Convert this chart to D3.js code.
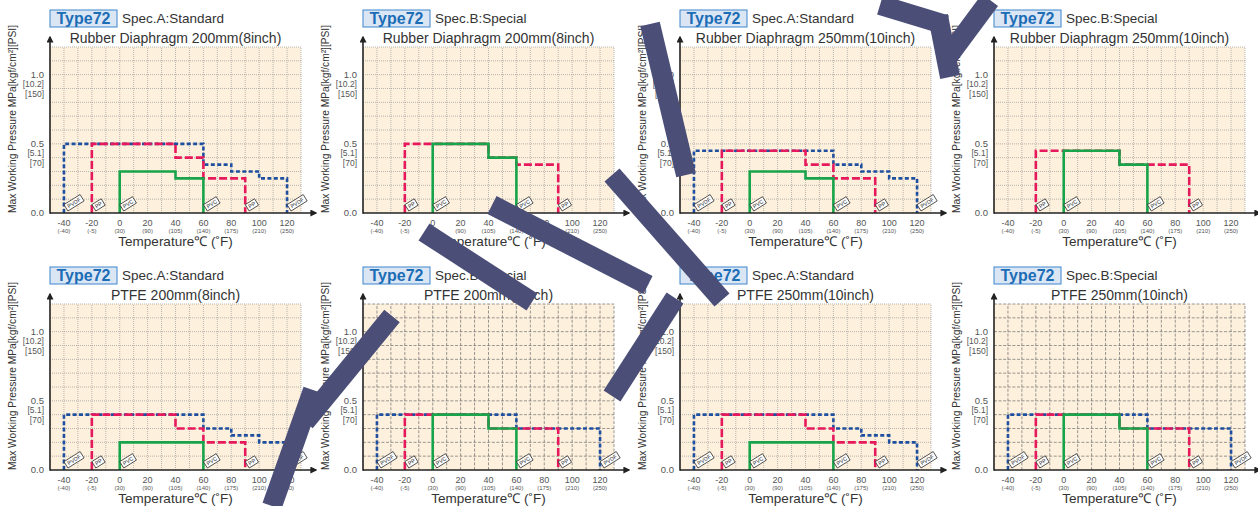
<!DOCTYPE html>
<html>
<head>
<meta charset="utf-8">
<script src="https://cdn.jsdelivr.net/npm/d3@7"></script>
<style>
  body { margin: 0; background: #fff; }
  svg { display: block; }
  text { font-family: "Liberation Sans", Arial, sans-serif; }
</style>
</head>
<body>
<svg id="chart" width="1258" height="506"></svg>
<script>
// axis ticks
const tempTicks = [-40, -20, 0, 20, 40, 60, 80, 100, 120]
const fahrLabels = ["(-40)", "(-5)", "(30)", "(90)", "(105)", "(140)", "(175)", "(210)", "(250)"]
const pressTicks = [0, 0.5, 1.0]
const pressLabels = ["0.0", "0.5", "1.0"]
const kgfLabels = ["", "[5.1]", "[10.2]"]
const psiLabels = ["", "[70]", "[150]"]

// step series: [temperature, pressure from that temperature on]
const rubber200A_PVDF = [[-40, 0.5], [60, 0.35], [80, 0.3], [100, 0.25], [120, 0]]
const rubber200A_PP = [[-20, 0.5], [40, 0.4], [60, 0.25], [90, 0]]
const rubber200A_PVC = [[0, 0.3], [40, 0.25], [60, 0]]

const rubber200B_PP = [[-20, 0.5], [40, 0.4], [60, 0.35], [90, 0]]
const rubber200B_PVC = [[0, 0.5], [40, 0.4], [60, 0]]

const rubber250A_PVDF = [[-40, 0.45], [60, 0.35], [80, 0.3], [100, 0.25], [120, 0]]
const rubber250A_PP = [[-20, 0.45], [40, 0.35], [60, 0.25], [90, 0]]
const rubber250A_PVC = [[0, 0.3], [40, 0.25], [60, 0]]

const rubber250B_PP = [[-20, 0.45], [40, 0.35], [90, 0]]
const rubber250B_PVC = [[0, 0.45], [40, 0.35], [60, 0]]

const ptfe200A_PVDF = [[-40, 0.4], [60, 0.3], [80, 0.25], [100, 0.2], [120, 0]]
const ptfe200A_PP = [[-20, 0.4], [40, 0.3], [60, 0.2], [90, 0]]
const ptfe200A_PVC = [[0, 0.2], [60, 0]]

const ptfe200B_PVDF = [[-40, 0.4], [60, 0.3], [120, 0]]
const ptfe200B_PP = [[-20, 0.4], [40, 0.3], [90, 0]]
const ptfe200B_PVC = [[0, 0.4], [40, 0.3], [60, 0]]

const ptfe250A_PVDF = [[-40, 0.4], [60, 0.3], [80, 0.25], [100, 0.2], [120, 0]]
const ptfe250A_PP = [[-20, 0.4], [40, 0.3], [60, 0.2], [90, 0]]
const ptfe250A_PVC = [[0, 0.2], [60, 0]]

const ptfe250B_PVDF = [[-40, 0.4], [60, 0.3], [120, 0]]
const ptfe250B_PP = [[-20, 0.4], [40, 0.3], [90, 0]]
const ptfe250B_PVC = [[0, 0.4], [40, 0.3], [60, 0]]

const panels = [
  { spec: "Spec.A:Standard", title: "Rubber Diaphragm 200mm(8inch)", dash: false,
    PVDF: rubber200A_PVDF, PP: rubber200A_PP, PVC: rubber200A_PVC },
  { spec: "Spec.B:Special", title: "Rubber Diaphragm 200mm(8inch)", dash: false,
    PVDF: null, PP: rubber200B_PP, PVC: rubber200B_PVC },
  { spec: "Spec.A:Standard", title: "Rubber Diaphragm 250mm(10inch)", dash: false,
    PVDF: rubber250A_PVDF, PP: rubber250A_PP, PVC: rubber250A_PVC },
  { spec: "Spec.B:Special", title: "Rubber Diaphragm 250mm(10inch)", dash: false,
    PVDF: null, PP: rubber250B_PP, PVC: rubber250B_PVC },
  { spec: "Spec.A:Standard", title: "PTFE 200mm(8inch)", dash: false,
    PVDF: ptfe200A_PVDF, PP: ptfe200A_PP, PVC: ptfe200A_PVC },
  { spec: "Spec.B:Special", title: "PTFE 200mm(8inch)", dash: true,
    PVDF: ptfe200B_PVDF, PP: ptfe200B_PP, PVC: ptfe200B_PVC },
  { spec: "Spec.A:Standard", title: "PTFE 250mm(10inch)", dash: false,
    PVDF: ptfe250A_PVDF, PP: ptfe250A_PP, PVC: ptfe250A_PVC },
  { spec: "Spec.B:Special", title: "PTFE 250mm(10inch)", dash: true,
    PVDF: ptfe250B_PVDF, PP: ptfe250B_PP, PVC: ptfe250B_PVC }
]

const styles = {
  PVDF: { color: "#1f4f9f", dash: "4,2.4" },
  PP: { color: "#e6195c", dash: "8,3" },
  PVC: { color: "#17a44a", dash: null }
}
const tagWidth = { PVDF: 19, PP: 11, PVC: 15 }

const colX = [50, 363, 680, 994]
const rowY = [213, 470]
const plotW = 251
const plotH = 166

const svg = d3.select("#chart")

svg.append("defs").append("marker")
  .attr("id", "arrow")
  .attr("viewBox", "0 0 10 10")
  .attr("refX", 8).attr("refY", 5)
  .attr("markerWidth", 7).attr("markerHeight", 7)
  .attr("markerUnits", "userSpaceOnUse")
  .attr("orient", "auto")
  .append("path")
  .attr("d", "M0,0 L10,5 L0,10 Z")
  .attr("fill", "#222")

panels.forEach((p, i) => {
  const ax = colX[i % 4]
  const y0 = rowY[Math.floor(i / 4)]
  const x = d3.scaleLinear().domain([-50, 130]).range([ax, ax + plotW])
  const y = d3.scaleLinear().domain([0, 1.2]).range([y0, y0 - plotH])
  const g = svg.append("g")

  // plot background
  g.append("rect")
    .attr("x", x(-50)).attr("y", y(1.2))
    .attr("width", x(130) - x(-50)).attr("height", y(0) - y(1.2))
    .attr("fill", "#fdf0dd")

  // grid
  const gridColor = p.dash ? "#6f6f6f" : "#999"
  const gridDash = p.dash ? "3,1.6" : "1,1"
  g.append("g").selectAll("line")
    .data(d3.range(-40, 131, 10))
    .enter().append("line")
    .attr("x1", d => x(d)).attr("x2", d => x(d))
    .attr("y1", y(0)).attr("y2", y(1.2))
    .attr("stroke", gridColor).attr("stroke-width", 0.7)
    .attr("stroke-dasharray", gridDash)
  g.append("g").selectAll("line")
    .data(d3.range(1, 13).map(k => k / 10))
    .enter().append("line")
    .attr("x1", x(-50)).attr("x2", x(130))
    .attr("y1", d => y(d)).attr("y2", d => y(d))
    .attr("stroke", gridColor).attr("stroke-width", 0.7)
    .attr("stroke-dasharray", gridDash)

  // series
  const line = d3.line()
    .x(d => x(d[0])).y(d => y(d[1]))
    .curve(d3.curveStepAfter)
  const order = ["PVDF", "PP", "PVC"]
  order.forEach(name => {
    const s = p[name]
    if (!s) return
    const pts = [[s[0][0], 0]].concat(s)
    g.append("path")
      .attr("d", line(pts))
      .attr("fill", "none")
      .attr("stroke", styles[name].color)
      .attr("stroke-width", 2.6)
      .attr("stroke-dasharray", styles[name].dash)
  })

  // material tags at start and end of each series
  order.forEach(name => {
    const s = p[name]
    if (!s) return
    const w = tagWidth[name]
    ;[s[0][0], s[s.length - 1][0]].forEach(t => {
      const tag = g.append("g")
        .attr("transform", `translate(${x(t) + 4},${y(0) - 2}) rotate(-32)`)
      tag.append("rect")
        .attr("x", 0).attr("y", -7.5)
        .attr("width", w).attr("height", 7.5)
        .attr("fill", "#fff").attr("stroke", "#222").attr("stroke-width", 0.7)
      tag.append("text")
        .attr("x", w / 2).attr("y", -1.8)
        .attr("text-anchor", "middle")
        .attr("font-size", 5.5)
        .attr("fill", "#222")
        .text(name)
    })
  })

  // axes
  g.append("line")
    .attr("x1", x(-50)).attr("x2", x(130) + 15)
    .attr("y1", y(0)).attr("y2", y(0))
    .attr("stroke", "#222").attr("stroke-width", 1.6)
    .attr("marker-end", "url(#arrow)")
  g.append("line")
    .attr("x1", x(-50)).attr("x2", x(-50))
    .attr("y1", y(0) + 0.8).attr("y2", y(1.2) - 10)
    .attr("stroke", "#222").attr("stroke-width", 1.6)
    .attr("marker-end", "url(#arrow)")

  // x tick labels
  const xt = g.append("g").attr("fill", "#555").attr("text-anchor", "middle")
  xt.selectAll("text.c")
    .data(tempTicks)
    .enter().append("text")
    .attr("x", d => x(d)).attr("y", y(0) + 13)
    .attr("font-size", 9)
    .text(d => d)
  xt.selectAll("text.f")
    .data(tempTicks)
    .enter().append("text")
    .attr("x", d => x(d)).attr("y", y(0) + 19.5)
    .attr("font-size", 6)
    .text((d, k) => fahrLabels[k])

  // y tick labels
  const yt = g.append("g").attr("fill", "#555").attr("text-anchor", "end")
  pressTicks.forEach((v, k) => {
    yt.append("text")
      .attr("x", ax - 6).attr("y", y(v) + 3.3)
      .attr("font-size", 9.5)
      .text(pressLabels[k])
    if (kgfLabels[k]) {
      yt.append("text")
        .attr("x", ax - 6).attr("y", y(v) + 12)
        .attr("font-size", 8.5)
        .text(kgfLabels[k])
      yt.append("text")
        .attr("x", ax - 6).attr("y", y(v) + 22)
        .attr("font-size", 8.5)
        .text(psiLabels[k])
    }
  })

  // axis titles
  g.append("text")
    .attr("x", x(40)).attr("y", y(0) + 33)
    .attr("text-anchor", "middle")
    .attr("font-size", 13.5).attr("fill", "#333")
    .text("Temperature℃ (˚F)")
  g.append("text")
    .attr("transform", `translate(${ax - 34},${y(0) - 94}) rotate(-90)`)
    .attr("text-anchor", "middle")
    .attr("font-size", 11).attr("fill", "#333")
    .attr("textLength", 188).attr("lengthAdjust", "spacingAndGlyphs")
    .text("Max Working Pressure MPa[kgf/cm²][PSI]")

  // headings
  g.append("rect")
    .attr("x", ax).attr("y", y0 - 203)
    .attr("width", 67).attr("height", 17)
    .attr("fill", "#dbe6f5").attr("stroke", "#3c86cc").attr("stroke-width", 1)
  g.append("text")
    .attr("x", ax + 33.5).attr("y", y0 - 189)
    .attr("text-anchor", "middle")
    .attr("font-size", 16).attr("font-weight", "bold").attr("fill", "#1b6db6")
    .text("Type72")
  g.append("text")
    .attr("x", ax + 72).attr("y", y0 - 190)
    .attr("font-size", 13.5).attr("fill", "#333")
    .text(p.spec)
  g.append("text")
    .attr("x", x(40)).attr("y", y0 - 170)
    .attr("text-anchor", "middle")
    .attr("font-size", 14).attr("fill", "#333")
    .text(p.title)
})

// watermark strokes laid over the sheet
const watermark = [
  [[272, 506], [313, 390]],
  [[305, 422], [392, 316]],
  [[424, 232], [532, 302]],
  [[492, 205], [648, 285]],
  [[612, 175], [722, 300]],
  [[675, 298], [612, 396]],
  [[650, 24], [686, 175]],
  [[880, 5], [946, 25]],
  [[938, 16], [950, 77]],
  [[944, 62], [990, 0]]
]
const wm = svg.append("g").attr("stroke", "#4b4e77").attr("stroke-width", 20).attr("fill", "none")
watermark.forEach(seg => {
  wm.append("path").attr("d", d3.line()(seg))
})
</script>
</body>
</html>
